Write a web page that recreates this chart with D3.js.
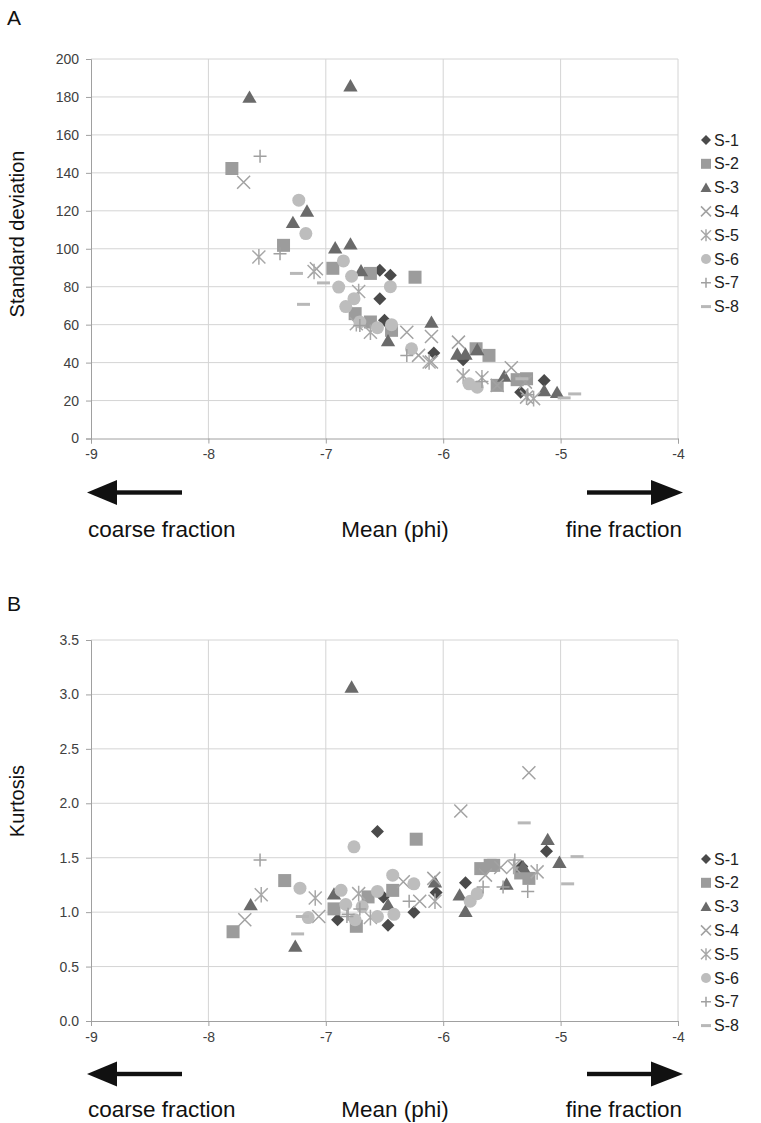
<!DOCTYPE html>
<html>
<head>
<meta charset="utf-8">
<script src="https://cdn.jsdelivr.net/npm/d3@7"></script>
<style>
  body { margin: 0; background: #fff; }
  svg { display: block; font-family: "Liberation Sans", Arial, sans-serif; }
</style>
</head>
<body>
<svg id="chart" width="761" height="1123"></svg>
<script>
// series names + tick values
const seriesNames = ["S-1", "S-2", "S-3", "S-4", "S-5", "S-6", "S-7", "S-8"];
const xTicks = [-9, -8, -7, -6, -5, -4];
const sdTicks = [0, 20, 40, 60, 80, 100, 120, 140, 160, 180, 200];
const kurtTicks = [0, 0.5, 1, 1.5, 2, 2.5, 3, 3.5];

// chart A: [mean (phi), standard deviation]
const sdS1 = [[-6.54, 88.7], [-6.45, 86], [-6.54, 73.7], [-6.50, 62.3], [-6.08, 45], [-5.83, 41.5], [-5.34, 24.4], [-5.14, 30.6]];
const sdS2 = [[-7.80, 142.3], [-7.36, 101.8], [-6.94, 89.7], [-6.62, 87], [-6.24, 85], [-6.75, 65.8], [-6.62, 61.4], [-6.44, 57], [-5.72, 47.3], [-5.61, 43.8], [-5.54, 28], [-5.37, 31], [-5.29, 31.5]];
const sdS3 = [[-7.65, 180], [-6.79, 186], [-7.16, 120], [-7.28, 114], [-6.92, 100.6], [-6.79, 102.7], [-6.70, 88.6], [-6.47, 51.7], [-6.10, 61.4], [-5.88, 44.6], [-5.81, 44.6], [-5.71, 47], [-5.48, 33], [-5.14, 25.3], [-5.03, 24.4]];
const sdS4 = [[-7.70, 135], [-7.08, 89.5], [-6.31, 56], [-6.10, 53.8], [-6.21, 43.8], [-6.10, 40.3], [-5.87, 50.8], [-5.54, 28], [-5.42, 37.3], [-5.30, 29.7]];
const sdS5 = [[-7.57, 95.7], [-7.10, 88], [-6.72, 77.5], [-6.74, 60.5], [-6.62, 56], [-6.12, 40.3], [-5.83, 33], [-5.67, 32], [-5.29, 21.8], [-5.23, 21]];
const sdS6 = [[-7.23, 125.6], [-7.17, 108], [-6.85, 93.6], [-6.78, 85.5], [-6.89, 79.8], [-6.45, 80], [-6.76, 73.7], [-6.83, 69.5], [-6.71, 61.4], [-6.56, 58.4], [-6.44, 60], [-6.27, 47.3], [-5.78, 28.8], [-5.71, 27]];
const sdS7 = [[-7.56, 148.8], [-7.39, 97.4], [-6.71, 59.6], [-6.31, 43.8], [-5.67, 30], [-5.28, 23]];
const sdS8 = [[-7.25, 87], [-7.02, 82], [-7.19, 70.7], [-5.33, 31.5], [-4.88, 23.5], [-4.97, 21.4]];

// chart B: [mean (phi), kurtosis]
const kurtS1 = [[-6.56, 1.74], [-6.90, 0.93], [-6.51, 1.14], [-6.47, 0.88], [-6.25, 1.00], [-6.06, 1.18], [-5.81, 1.27], [-5.33, 1.42], [-5.12, 1.56]];
const kurtS2 = [[-7.79, 0.82], [-7.35, 1.29], [-6.93, 1.03], [-6.74, 0.87], [-6.64, 1.14], [-6.43, 1.20], [-6.23, 1.67], [-5.68, 1.40], [-5.60, 1.43], [-5.57, 1.43], [-5.34, 1.36], [-5.27, 1.31]];
const kurtS3 = [[-7.64, 1.07], [-7.26, 0.69], [-6.78, 3.07], [-6.93, 1.17], [-6.47, 1.07], [-6.07, 1.28], [-5.86, 1.16], [-5.81, 1.01], [-5.46, 1.26], [-5.32, 1.42], [-5.11, 1.67], [-5.01, 1.46]];
const kurtS4 = [[-7.69, 0.93], [-7.06, 0.96], [-6.34, 1.28], [-6.20, 1.10], [-6.08, 1.31], [-5.85, 1.93], [-5.64, 1.34], [-5.51, 1.41], [-5.27, 2.28]];
const kurtS5 = [[-7.55, 1.16], [-7.09, 1.13], [-6.72, 1.17], [-6.62, 0.95], [-6.07, 1.10], [-5.40, 1.42], [-5.20, 1.37]];
const kurtS6 = [[-6.76, 1.60], [-7.22, 1.22], [-7.15, 0.95], [-6.87, 1.20], [-6.83, 1.07], [-6.75, 0.93], [-6.56, 1.19], [-6.69, 1.05], [-6.56, 0.96], [-6.43, 1.34], [-6.42, 0.98], [-6.25, 1.26], [-5.77, 1.10], [-5.71, 1.17]];
const kurtS7 = [[-7.56, 1.48], [-6.82, 0.96], [-6.71, 1.03], [-6.81, 0.98], [-6.29, 1.10], [-5.66, 1.23], [-5.49, 1.23], [-5.39, 1.48], [-5.28, 1.19]];
const kurtS8 = [[-7.24, 0.80], [-7.20, 0.96], [-5.31, 1.82], [-4.86, 1.51], [-4.94, 1.26]];

const colors = ["#4a4a4a", "#9c9c9c", "#6a6a6a", "#a2a2a2", "#a8a8a8", "#bdbdbd", "#a0a0a0", "#b8b8b8"];

// marker paths, s = half size
function markerPath(i, s) {
    switch (i) {
        case 0: return `M0,${-s}L${s},0L0,${s}L${-s},0Z`;
        case 1: return `M${-s},${-s}H${s}V${s}H${-s}Z`;
        case 2: return `M0,${-s}L${s * 1.1},${s * 0.9}H${-s * 1.1}Z`;
        case 3: return `M${-s},${-s}L${s},${s}M${s},${-s}L${-s},${s}`;
        case 4: return `M${-s},${-s}L${s},${s}M${s},${-s}L${-s},${s}M0,${-s * 1.2}V${s * 1.2}`;
        case 5: return d3.arc()({ innerRadius: 0, outerRadius: s, startAngle: 0, endAngle: 2 * Math.PI });
        case 6: return `M${-s},0H${s}M0,${-s}V${s}`;
        case 7: return `M${-s},0H${s}`;
    }
}
const isStroke = i => i >= 3 && i !== 5;

function drawMarker(sel, i, s) {
    sel.append("path")
        .attr("d", markerPath(i, s))
        .attr("fill", isStroke(i) ? "none" : colors[i])
        .attr("stroke", isStroke(i) ? colors[i] : "none")
        .attr("stroke-width", i === 7 ? 3 : 1.5);
}

const svg = d3.select("#chart");
const x = d3.scaleLinear().domain([-9, -4]).range([91, 678]);

function panel(opts) {
    const y = d3.scaleLinear().domain(opts.domain).range([opts.bottom, opts.top]);
    const g = svg.append("g");

    // grid
    g.selectAll(".hg").data(opts.ticks.slice(1)).enter().append("line")
        .attr("x1", x(-9)).attr("x2", x(-4))
        .attr("y1", d => y(d)).attr("y2", d => y(d))
        .attr("stroke", "#d4d4d4");
    g.selectAll(".vg").data(xTicks.slice(1)).enter().append("line")
        .attr("x1", d => x(d)).attr("x2", d => x(d))
        .attr("y1", y(opts.domain[0])).attr("y2", y(opts.domain[1]))
        .attr("stroke", "#d4d4d4");

    const xAxis = g.append("g").attr("transform", `translate(0,${opts.bottom})`)
        .call(d3.axisBottom(x).tickValues(xTicks).tickSize(5).tickPadding(6).tickFormat(d => String(d)));
    const yAxis = g.append("g").attr("transform", `translate(${x(-9)},0)`)
        .call(d3.axisLeft(y).tickValues(opts.ticks).tickSize(5).tickPadding(7).tickFormat(opts.fmt));
    [xAxis, yAxis].forEach(a => {
        a.select(".domain").attr("stroke", "#a0a0a0");
        a.selectAll(".tick line").attr("stroke", "#a0a0a0");
        a.selectAll("text").attr("fill", "#404040").attr("font-size", 14).attr("font-family", "Liberation Sans, Arial, sans-serif");
    });

    // points
    opts.data.forEach((pts, i) => {
        const sg = g.append("g");
        pts.forEach(p => {
            const m = sg.append("g").attr("transform", `translate(${x(p[0])},${y(p[1])})`);
            drawMarker(m, i, 6.5);
        });
    });

    // legend
    const leg = g.append("g");
    seriesNames.forEach((name, i) => {
        const ly = opts.legendTop + i * 23.8;
        const m = leg.append("g").attr("transform", `translate(706,${ly})`);
        drawMarker(m, i, 5);
        leg.append("text").attr("x", 714).attr("y", ly).attr("dy", "0.35em")
            .attr("font-size", 16).attr("fill", "#222").text(name);
    });

    // y title
    g.append("text")
        .attr("transform", `translate(24,${opts.titleY}) rotate(-90)`)
        .attr("text-anchor", "middle").attr("font-size", 20).attr("fill", "#111")
        .text(opts.title);

    // arrows + captions
    const ay = opts.bottom + opts.arrowGap;
    const arrow = g.append("g").attr("fill", "#111");
    arrow.append("rect").attr("x", 112).attr("y", ay - 2.2).attr("width", 70).attr("height", 4.4);
    arrow.append("path").attr("d", `M87,${ay}L117,${ay - 12.5}L117,${ay + 12.5}Z`);
    arrow.append("rect").attr("x", 587).attr("y", ay - 2.2).attr("width", 68).attr("height", 4.4);
    arrow.append("path").attr("d", `M683,${ay}L651,${ay - 12.5}L651,${ay + 12.5}Z`);

    const ty = opts.bottom + opts.textGap;
    const cap = g.append("g").attr("font-size", 22.5).attr("fill", "#111");
    cap.append("text").attr("x", 88).attr("y", ty).text("coarse fraction");
    cap.append("text").attr("x", 395).attr("y", ty).attr("text-anchor", "middle").text("Mean (phi)");
    cap.append("text").attr("x", 682).attr("y", ty).attr("text-anchor", "end").text("fine fraction");

    svg.append("text").attr("x", 7).attr("y", opts.labelY).attr("font-size", 21).attr("fill", "#111").text(opts.label);
}

panel({
    label: "A", labelY: 25, top: 59, bottom: 438.5, domain: [0, 200], ticks: sdTicks,
    fmt: d3.format("d"), title: "Standard deviation", titleY: 234, legendTop: 140, arrowGap: 54, textGap: 98,
    data: [sdS1, sdS2, sdS3, sdS4, sdS5, sdS6, sdS7, sdS8]
});
panel({
    label: "B", labelY: 611, top: 640, bottom: 1021, domain: [0, 3.5], ticks: kurtTicks,
    fmt: d3.format(".1f"), title: "Kurtosis", titleY: 801, legendTop: 859, arrowGap: 53, textGap: 96,
    data: [kurtS1, kurtS2, kurtS3, kurtS4, kurtS5, kurtS6, kurtS7, kurtS8]
});
</script>
</body>
</html>
